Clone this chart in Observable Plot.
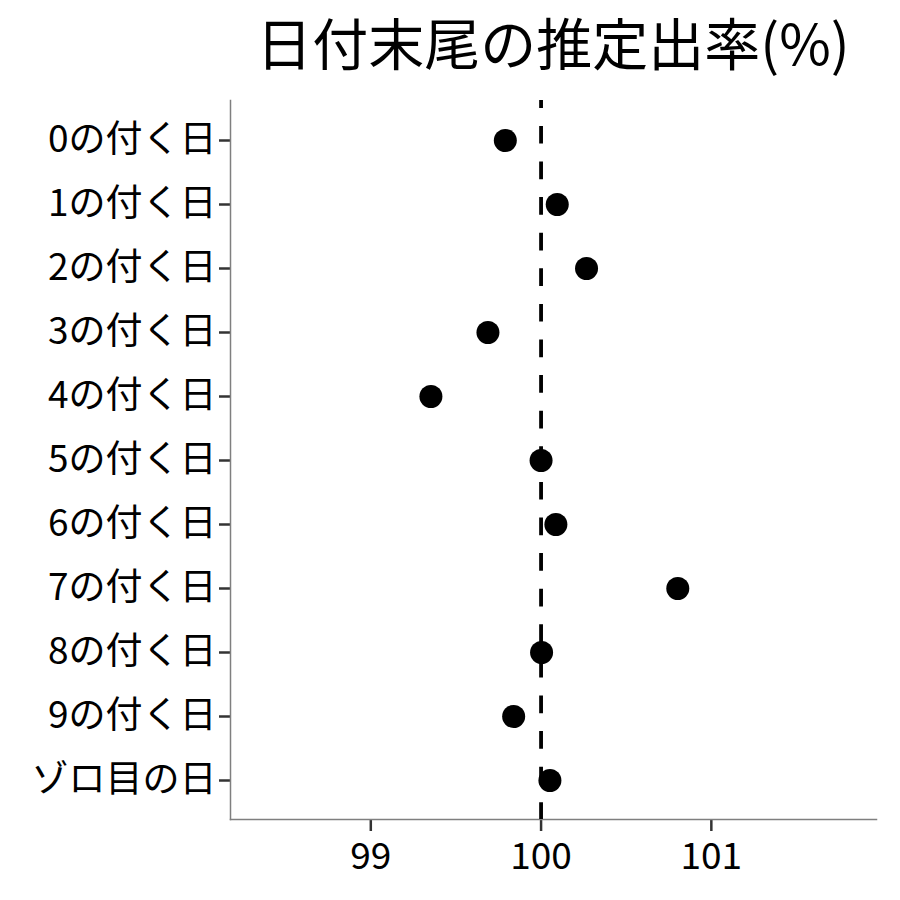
<!DOCTYPE html>
<html>
<head>
<meta charset="utf-8">
<script src="https://cdn.jsdelivr.net/npm/d3@7"></script>
<script src="https://cdn.jsdelivr.net/npm/@observablehq/plot@0.6"></script>
<style>
  html, body { margin: 0; padding: 0; background: #fff; }
  #chart { width: 900px; height: 900px; font-family: "Noto Sans CJK JP", sans-serif; }
  #title {
    height: 90px; box-sizing: border-box;
    padding-left: 230px; padding-right: 24px;
    text-align: center; font-size: 56px; line-height: 82px; color: #000;
    white-space: nowrap;
  }
  svg { display: block; }
</style>
</head>
<body>
<div id="chart">
  <div id="title">日付末尾の推定出率(%)</div>
</div>
<script>
// Day-ending categories, top to bottom
const categories = ["0の付く日", "1の付く日", "2の付く日", "3の付く日", "4の付く日",
  "5の付く日", "6の付く日", "7の付く日", "8の付く日", "9の付く日", "ゾロ目の日"];
// Estimated payout rate (%) for each category
const rates = [99.79, 100.095, 100.267, 99.688, 99.353, 100.0, 100.087, 100.803, 100.003, 99.839, 100.052];
// Reference line and x-axis ticks
const baseline = 100;
const xTicks = [99, 100, 101];

const data = categories.map((c, i) => ({category: c, rate: rates[i]}));

const plot = Plot.plot({
  width: 900,
  height: 810,
  marginTop: 10,
  marginBottom: 81,
  marginLeft: 230,
  marginRight: 24,
  style: {fontFamily: "Noto Sans CJK JP, sans-serif", fontSize: "37px", color: "#000", background: "#fff"},
  x: {domain: [98.176, 101.97], ticks: xTicks},
  y: {type: "point", domain: categories, padding: 0.6},
  marks: [
    Plot.axisY({tickSize: 11, tickPadding: 3, stroke: "#333", strokeWidth: 2.5, fill: "#000", fontSize: 37, label: null}),
    Plot.axisX({ticks: xTicks, tickFormat: (d) => String(d), tickSize: 12, tickPadding: 11, stroke: "#333", strokeWidth: 2.5, fill: "#000", fontSize: 37, label: null}),
    Plot.frame({anchor: "left", stroke: "#7f7f7f", strokeWidth: 1.5}),
    Plot.frame({anchor: "bottom", stroke: "#7f7f7f", strokeWidth: 1.5}),
    Plot.ruleX([baseline], {stroke: "#000", strokeWidth: 3.8, strokeDasharray: "17.7,17.9", strokeDashoffset: 9.7}),
    Plot.dot(data, {x: "rate", y: "category", r: 11.5, fill: "#000", stroke: null})
  ]
});
document.getElementById("chart").appendChild(plot);
</script>
</body>
</html>
